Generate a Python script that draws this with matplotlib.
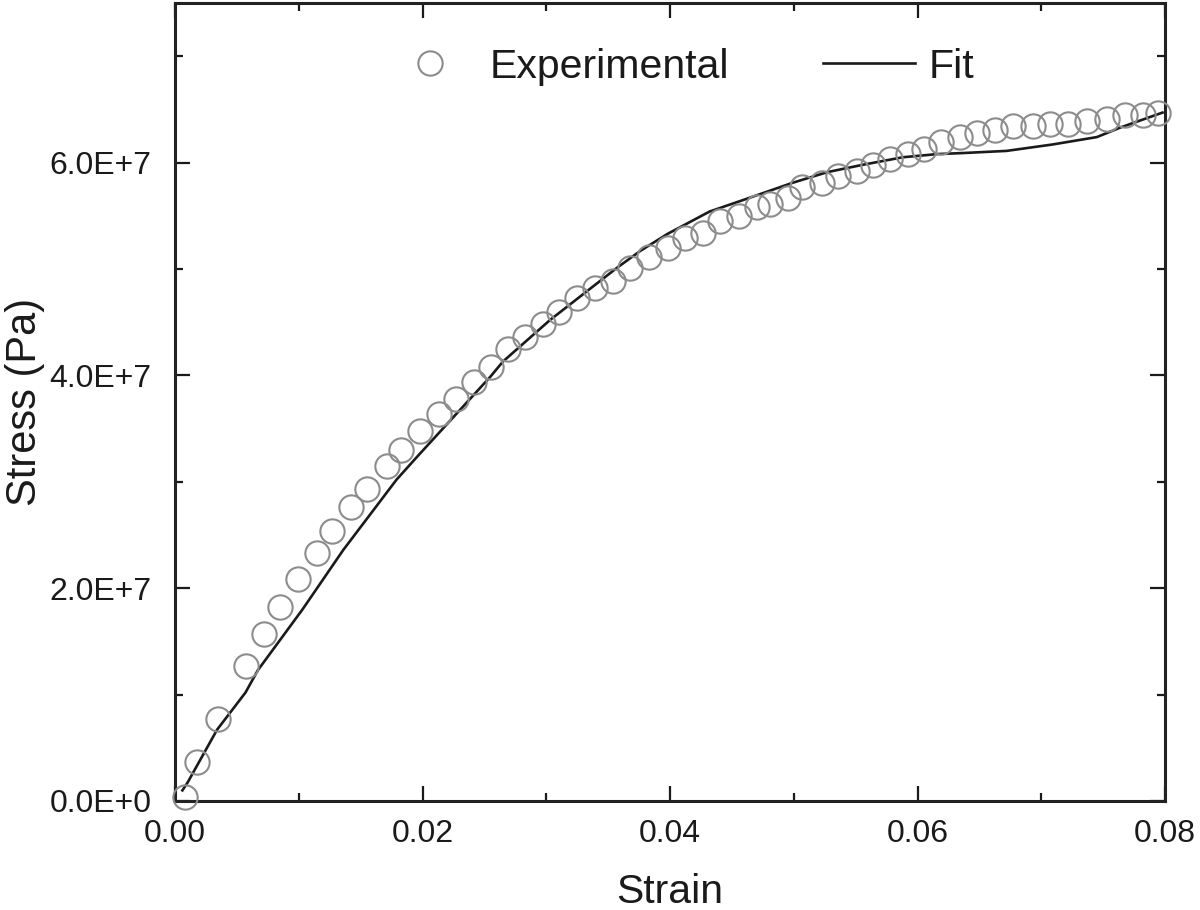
"""Stress-strain curve: experimental points against the fit."""

import matplotlib

matplotlib.use("Agg")
import matplotlib.pyplot as plt

strain_exp = [
    0.0008, 0.0018, 0.0035, 0.0057, 0.0072, 0.0085, 0.0099, 0.0115, 0.0127, 0.0142,
    0.0155, 0.0171, 0.0183, 0.0198, 0.0213, 0.0227, 0.0242, 0.0255, 0.0269, 0.0283,
    0.0297, 0.0310, 0.0325, 0.0339, 0.0354, 0.0368, 0.0383, 0.0398, 0.0412, 0.0427,
    0.0440, 0.0456, 0.0470, 0.0481, 0.0495, 0.0507, 0.0523, 0.0536, 0.0551, 0.0564,
    0.0578, 0.0592, 0.0605, 0.0619, 0.0634, 0.0648, 0.0663, 0.0677, 0.0693, 0.0707,
    0.0722, 0.0737, 0.0753, 0.0768, 0.0782, 0.0794,
]
stress_exp = [
    0.04, 0.37, 0.77, 1.27, 1.57, 1.82, 2.09, 2.33, 2.54, 2.76,
    2.93, 3.15, 3.30, 3.48, 3.64, 3.78, 3.94, 4.08, 4.25, 4.36,
    4.48, 4.60, 4.73, 4.82, 4.89, 5.01, 5.11, 5.20, 5.29, 5.34,
    5.45, 5.50, 5.58, 5.61, 5.67, 5.77, 5.81, 5.87, 5.92, 5.98,
    6.03, 6.08, 6.13, 6.19, 6.24, 6.28, 6.31, 6.34, 6.34, 6.36,
    6.36, 6.39, 6.41, 6.45, 6.45, 6.47,
]

strain_fit = [
    0.0006, 0.0010, 0.0034, 0.0057, 0.0067, 0.0103, 0.0136, 0.0179, 0.0196, 0.0233,
    0.0255, 0.0265, 0.0303, 0.0357, 0.0376, 0.0398, 0.0432, 0.0462, 0.0499, 0.0527,
    0.0556, 0.0588, 0.0616, 0.0637, 0.0672, 0.0709, 0.0745, 0.0764, 0.0798,
]
stress_fit = [
    0.10, 0.17, 0.67, 1.02, 1.23, 1.80, 2.36, 3.02, 3.24, 3.71,
    3.99, 4.13, 4.52, 5.01, 5.17, 5.33, 5.54, 5.66, 5.81, 5.91,
    5.98, 6.05, 6.08, 6.09, 6.11, 6.17, 6.24, 6.33, 6.47,
]

x_ticks = [0.00, 0.02, 0.04, 0.06, 0.08]
x_tick_labels = ["0.00", "0.02", "0.04", "0.06", "0.08"]
y_ticks = [0, 2e7, 4e7, 6e7]
y_tick_labels = ["0.0E+0", "2.0E+7", "4.0E+7", "6.0E+7"]
x_minor = [0.01, 0.03, 0.05, 0.07]
y_minor = [1e7, 3e7, 5e7, 7e7]

plt.rcParams["font.family"] = ["Liberation Sans", "DejaVu Sans"]

fig = plt.figure(figsize=(12, 9.1), dpi=100)
ax = fig.add_axes([175 / 1200, 1 - 801 / 910, 990 / 1200, 798 / 910])

ax.plot(strain_fit, [v * 1e7 for v in stress_fit], color="#1a1a1a", lw=1.9, label="Fit", zorder=2)
ax.plot(
    strain_exp,
    [v * 1e7 for v in stress_exp],
    ls="none",
    marker="o",
    ms=17.5,
    mfc="none",
    mec="#8c8c8c",
    mew=1.5,
    label="Experimental",
    zorder=3,
    clip_on=False,
)

ax.set_xlim(0, 0.08)
ax.set_ylim(0, 7.5e7)
ax.set_xticks(x_ticks, x_tick_labels)
ax.set_yticks(y_ticks, y_tick_labels)
ax.set_xticks(x_minor, minor=True)
ax.set_yticks(y_minor, minor=True)
ax.tick_params(which="major", direction="in", length=11, width=1.6, top=True, right=True, labelsize=23, colors="#1a1a1a")
ax.tick_params(which="minor", direction="in", length=6, width=1.6, top=True, right=True, colors="#1a1a1a")
ax.tick_params(axis="x", which="major", pad=13)
ax.tick_params(axis="y", which="major", pad=17)
for spine in ax.spines.values():
    spine.set_linewidth(2.2)
    spine.set_color("#222222")

ax.set_xlabel("Strain", fontsize=29.5, color="#1a1a1a", labelpad=17)
ax.set_ylabel("Stress (Pa)", fontsize=30, color="#1a1a1a", labelpad=3)

handles, labels = ax.get_legend_handles_labels()
ax.legend(
    handles[::-1],
    labels[::-1],
    ncol=2,
    loc="upper left",
    bbox_to_anchor=(0.211, 0.944),
    borderaxespad=0,
    borderpad=0,
    frameon=False,
    fontsize=29.5,
    handlelength=2.25,
    handletextpad=0.32,
    columnspacing=2.3,
    labelcolor="#1a1a1a",
)

fig.savefig("out.png", dpi=100)
